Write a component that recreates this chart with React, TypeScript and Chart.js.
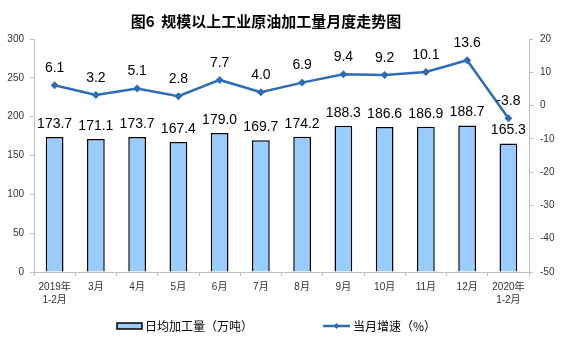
import React, { useEffect, useRef } from "react";
import { Chart, registerables } from "chart.js";

Chart.register(...registerables);

const categories: (string | string[])[] = [
  ["2019年", "1-2月"], "3月", "4月", "5月", "6月", "7月", "8月", "9月", "10月", "11月", "12月", ["2020年", "1-2月"],
];
const dailyOutput = [173.7, 171.1, 173.7, 167.4, 179.0, 169.7, 174.2, 188.3, 186.6, 186.9, 188.7, 165.3];
const growthRate = [6.1, 3.2, 5.1, 2.8, 7.7, 4.0, 6.9, 9.4, 9.2, 10.1, 13.6, -3.8];
const titleText = "图6  规模以上工业原油加工量月度走势图";
const barLegend = "日均加工量（万吨）";
const lineLegend = "当月增速（%）";

const BAR_COLOR = "#99CCFF";
const LINE_COLOR = "#2E6DB5";
const LABEL_FONT = '14px "Liberation Sans", Arial, sans-serif';
const CJK = '"Noto Sans CJK SC", sans-serif';

const overlay = {
  id: "overlay",
  afterDatasetsDraw(chart: any) {
    const ctx = chart.ctx;
    ctx.save();
    ctx.fillStyle = "#000";
    ctx.font = LABEL_FONT;
    ctx.textAlign = "center";
    ctx.textBaseline = "middle";
    const barMeta = chart.getDatasetMeta(0);
    barMeta.data.forEach((el: any, i: number) => {
      ctx.fillText(dailyOutput[i].toFixed(1), el.x, el.y - 13);
    });
    const lineMeta = chart.getDatasetMeta(1);
    lineMeta.data.forEach((el: any, i: number) => {
      ctx.fillText(growthRate[i].toFixed(1), el.x, el.y - 17);
    });
    // title
    ctx.font = `bold 15px ${CJK}`;
    ctx.fillText(titleText, 266, 21);
    // legend
    const ly = 326;
    ctx.fillStyle = BAR_COLOR;
    ctx.strokeStyle = "#000";
    ctx.lineWidth = 1.5;
    ctx.fillRect(117, ly - 3, 25, 6);
    ctx.strokeRect(117, ly - 3, 25, 6);
    ctx.fillStyle = "#000";
    ctx.font = `12px ${CJK}`;
    ctx.textAlign = "left";
    ctx.fillText(barLegend, 145, ly);
    ctx.strokeStyle = LINE_COLOR;
    ctx.lineWidth = 2.5;
    ctx.beginPath();
    ctx.moveTo(323, ly);
    ctx.lineTo(350, ly);
    ctx.stroke();
    ctx.fillStyle = LINE_COLOR;
    ctx.beginPath();
    ctx.moveTo(336.5, ly - 3);
    ctx.lineTo(339.5, ly);
    ctx.lineTo(336.5, ly + 3);
    ctx.lineTo(333.5, ly);
    ctx.closePath();
    ctx.fill();
    ctx.fillStyle = "#000";
    ctx.fillText(lineLegend, 353, ly);
    ctx.restore();
  },
};

export default function App() {
  const ref = useRef<HTMLCanvasElement>(null);
  useEffect(() => {
    if (!ref.current) return;
    const tickFont = { family: '"Liberation Sans", "Noto Sans CJK SC", sans-serif', size: 10, lineHeight: 1.3 };
    const chart = new Chart(ref.current, {
      type: "bar",
      data: {
        labels: categories as any,
        datasets: [
          {
            type: "bar",
            label: barLegend,
            data: dailyOutput,
            backgroundColor: BAR_COLOR,
            borderColor: "#000",
            borderWidth: 1.5,
            barPercentage: 0.43,
            categoryPercentage: 1,
            yAxisID: "y",
            order: 2,
          },
          {
            type: "line",
            label: lineLegend,
            data: growthRate,
            borderColor: LINE_COLOR,
            backgroundColor: LINE_COLOR,
            borderWidth: 2.5,
            pointStyle: "rectRot",
            pointRadius: 4,
            pointBorderWidth: 0,
            tension: 0,
            yAxisID: "y1",
            order: 1,
          },
        ],
      },
      options: {
        animation: false,
        responsive: false,
        layout: { padding: { top: 39, left: 0, right: 0, bottom: 0 } },
        plugins: { legend: { display: false }, title: { display: false }, tooltip: { enabled: false } },
        scales: {
          x: {
            offset: true,
            grid: { display: true, drawOnChartArea: false, offset: true, tickLength: 4, color: "#BFBFBF" },
            border: { color: "#BFBFBF" },
            ticks: { color: "#333", font: tickFont, padding: 5, maxRotation: 0, autoSkip: false },
            afterFit(scale: any) { scale.height = 85; },
          },
          y: {
            position: "left",
            min: 0,
            max: 300,
            ticks: { stepSize: 50, color: "#333", font: tickFont, padding: 6 },
            grid: { display: true, drawOnChartArea: false, tickLength: 4, color: "#BFBFBF" },
            border: { color: "#BFBFBF" },
            afterFit(scale: any) { scale.width = 34; },
          },
          y1: {
            position: "right",
            min: -50,
            max: 20,
            ticks: { stepSize: 10, color: "#333", font: tickFont, padding: 7 },
            grid: { display: true, drawOnChartArea: false, tickLength: 4, color: "#BFBFBF" },
            border: { color: "#BFBFBF" },
            afterFit(scale: any) { scale.width = 32; },
          },
        },
      },
      plugins: [overlay],
    });
    return () => chart.destroy();
  }, []);
  return (
    <div style={{ position: "fixed", left: 0, top: 0, width: 561, height: 357, background: "#fff" }}>
      <canvas ref={ref} width={561} height={357} style={{ width: 561, height: 357 }} />
    </div>
  );
}
